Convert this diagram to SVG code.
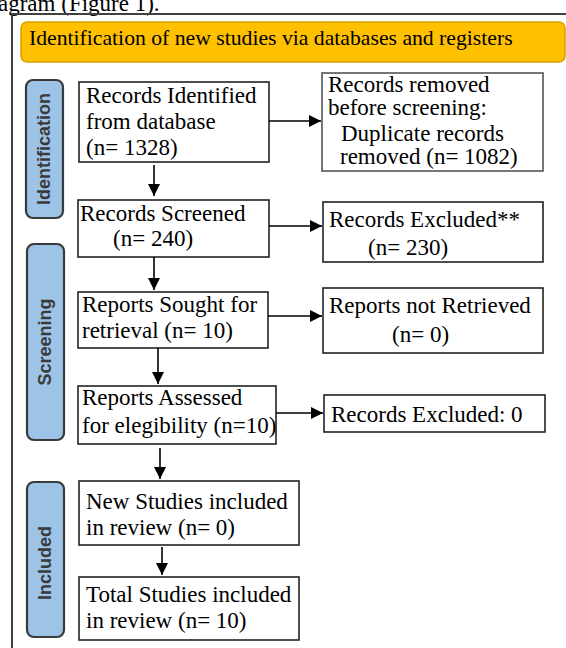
<svg xmlns="http://www.w3.org/2000/svg" width="566" height="648" viewBox="0 0 566 648">
<style>
.t{font-family:"Liberation Serif","Times New Roman",serif;font-size:23px;fill:#000}
.h{font-family:"Liberation Serif","Times New Roman",serif;font-size:21.7px;fill:#000}
.box{fill:#fff;stroke:#222;stroke-width:1.6}
.side{fill:#9DC3E6;stroke:#3a3a3a;stroke-width:2.2}
.st{font-family:"Liberation Sans",Arial,sans-serif;font-weight:bold;font-size:18px;fill:#3a3a3a;text-anchor:middle}
.ln{stroke:#000;stroke-width:1.6;fill:none}
</style>
<defs>
<marker id="ah" viewBox="0 0 10 10" refX="10" refY="5" markerWidth="12" markerHeight="12" markerUnits="userSpaceOnUse" orient="auto">
<path d="M0,0 L10,5 L0,10 Z" fill="#000"/>
</marker>
</defs>
<rect width="566" height="648" fill="#fff"/>
<text class="t" x="-2" y="11" font-size="23">agram (Figure 1).</text>
<path d="M12,648 V14 H566" stroke="#404040" stroke-width="2" fill="none"/>
<g id="header">
<rect x="21" y="22" width="544" height="40" rx="6" fill="#FFC000" stroke="#D9A300" stroke-width="1.5"/>
<text class="h" x="29" y="45">Identification of new studies via databases and registers</text>
</g>
<g id="lbl-identification">
<rect class="side" x="26" y="80" width="37" height="138" rx="7"/>
<text class="st" transform="translate(50,149) rotate(-90)">Identification</text>
</g>
<g id="lbl-screening">
<rect class="side" x="27" y="244" width="37" height="196" rx="7"/>
<text class="st" transform="translate(51,342) rotate(-90)">Screening</text>
</g>
<g id="lbl-included">
<rect class="side" x="27" y="482" width="37" height="155" rx="7"/>
<text class="st" transform="translate(51,563) rotate(-90)">Included</text>
</g>
<g id="n1">
<rect class="box" x="79" y="82" width="190" height="80"/>
<text class="t" x="86" y="103">Records Identified</text>
<text class="t" x="86" y="129">from database</text>
<text class="t" x="86" y="155">(n= 1328)</text>
</g>
<g id="n2">
<rect class="box" x="78" y="200" width="191" height="57"/>
<text class="t" x="80" y="221">Records Screened</text>
<text class="t" x="113" y="246">(n= 240)</text>
</g>
<g id="n3">
<rect class="box" x="78" y="292" width="190" height="56"/>
<text class="t" x="82" y="312">Reports Sought for</text>
<text class="t" x="82" y="338">retrieval (n= 10)</text>
</g>
<g id="n4">
<rect class="box" x="78" y="386" width="198" height="58"/>
<text class="t" x="82" y="405">Reports Assessed</text>
<text class="t" x="82" y="433">for elegibility (n=10)</text>
</g>
<g id="n5">
<rect class="box" x="79" y="481" width="220" height="64"/>
<text class="t" x="86" y="509">New Studies included</text>
<text class="t" x="86" y="535">in review (n= 0)</text>
</g>
<g id="n6">
<rect class="box" x="79" y="577" width="220" height="63"/>
<text class="t" x="86" y="602">Total Studies included</text>
<text class="t" x="86" y="628">in review (n= 10)</text>
</g>
<g id="nA">
<rect class="box" x="322" y="73" width="221" height="98" style="stroke:#555"/>
<text class="t" x="328" y="92" font-size="22.5">Records removed</text>
<text class="t" x="328" y="115" font-size="22.5">before screening:</text>
<text class="t" x="341" y="141" font-size="22">Duplicate records</text>
<text class="t" x="340" y="164" font-size="22">removed (n= 1082)</text>
</g>
<g id="nB">
<rect class="box" x="323" y="202" width="220" height="60"/>
<text class="t" x="329" y="227">Records Excluded**</text>
<text class="t" x="368" y="255">(n= 230)</text>
</g>
<g id="nC">
<rect class="box" x="323" y="288" width="220" height="65"/>
<text class="t" x="329" y="313">Reports not Retrieved</text>
<text class="t" x="392" y="342">(n= 0)</text>
</g>
<g id="nD">
<rect class="box" x="324" y="395" width="221" height="37"/>
<text class="t" x="331" y="422">Records Excluded: 0</text>
</g>
<g id="connectors">
<line class="ln" x1="269" y1="121" x2="321" y2="121" marker-end="url(#ah)"/>
<line class="ln" x1="269" y1="226" x2="322" y2="226" marker-end="url(#ah)"/>
<line class="ln" x1="268" y1="316" x2="322" y2="316" marker-end="url(#ah)"/>
<line class="ln" x1="276" y1="413" x2="323" y2="413" marker-end="url(#ah)"/>
<line class="ln" x1="154" y1="165" x2="154" y2="196" marker-end="url(#ah)"/>
<line class="ln" x1="154" y1="257" x2="154" y2="290" marker-end="url(#ah)"/>
<line class="ln" x1="158" y1="348" x2="158" y2="384" marker-end="url(#ah)"/>
<line class="ln" x1="160" y1="448" x2="160" y2="479" marker-end="url(#ah)"/>
<line class="ln" x1="162" y1="547" x2="162" y2="575" marker-end="url(#ah)"/>
</g>
</svg>
